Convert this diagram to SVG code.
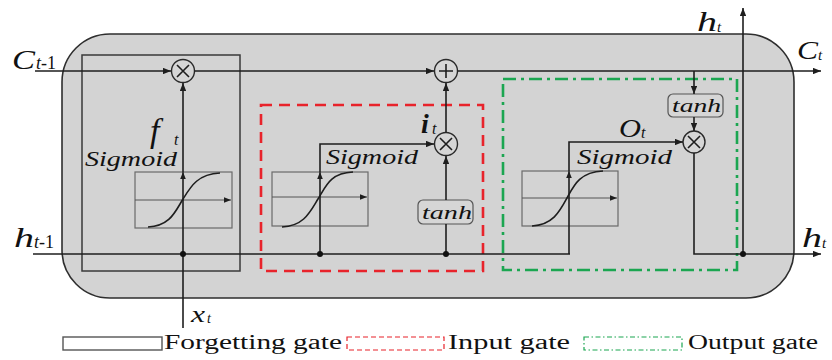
<svg xmlns="http://www.w3.org/2000/svg" width="832" height="360" viewBox="0 0 832 360">
<style>
.ln{fill:none;stroke:#1e1e1e;stroke-width:1.6}
.thin{fill:none;stroke:#555;stroke-width:1}
.box{fill:#d3d3d3;stroke:#6a6a6a;stroke-width:1.2}
.op{fill:#d6d6d6;stroke:#2a2a2a;stroke-width:1.4}
text{font-family:"Liberation Serif","DejaVu Serif","Times New Roman",serif;fill:#111}
.it{font-style:italic}
.dot{fill:#111}
</style>
<defs>
<marker id="ar" viewBox="0 0 10 8" refX="10" refY="4" markerWidth="8" markerHeight="6.4" markerUnits="userSpaceOnUse" orient="auto">
<path d="M0,0 L10,4 L0,8 Z" fill="#1e1e1e"/>
</marker>
<marker id="ars" viewBox="0 0 10 8" refX="10" refY="4" markerWidth="7" markerHeight="5.6" markerUnits="userSpaceOnUse" orient="auto">
<path d="M0,0 L10,4 L0,8 Z" fill="#1e1e1e"/>
</marker>
</defs>
<rect width="832" height="360" fill="#fff"/>
<g id="cell">
<rect x="62" y="34" width="732" height="264" rx="48" ry="48" fill="#d3d3d3" stroke="#2e2e2e" stroke-width="1.6"/>
</g>
<g id="forget-gate">
<rect x="82" y="55" width="158" height="216" fill="none" stroke="#3a3a3a" stroke-width="1.5"/>
<rect class="box" x="135" y="172" width="97" height="56"/>
<line class="thin" x1="135" y1="200" x2="231" y2="200" marker-end="url(#ars)"/>
<path class="ln" d="M148,227 C170,226 175,212 183,199 S198,174 220,173"/>
<text class="it" x="150" y="142" font-size="34">f</text>
<text class="it" x="174" y="145" font-size="16">t</text>
<text class="it" x="85" y="166" font-size="21" textLength="92" lengthAdjust="spacingAndGlyphs">Sigmoid</text>
<circle class="op" cx="183" cy="71" r="11.5"/>
<path class="ln" d="M177,65 L189,77 M189,65 L177,77" stroke-width="1.2"/>
</g>
<g id="input-gate">
<rect x="261" y="105" width="222" height="166" fill="none" stroke="#e8232b" stroke-width="2.6" stroke-dasharray="11 7"/>
<rect class="box" x="272" y="172" width="96" height="54"/>
<line class="thin" x1="272" y1="197" x2="367" y2="197" marker-end="url(#ars)"/>
<path class="ln" d="M282,227 C304,226 310,212 318,199 S330,173 353,172"/>
<text class="it" x="326" y="164" font-size="21" textLength="92" lengthAdjust="spacingAndGlyphs">Sigmoid</text>
<text class="it" x="421" y="133" font-size="28" font-weight="bold">i</text>
<text class="it" x="432" y="134" font-size="16">t</text>
<rect x="418" y="200" width="55" height="24" rx="5" fill="#d6d6d6" stroke="#555" stroke-width="1.2"/>
<text class="it" x="422" y="219" font-size="18" textLength="50" lengthAdjust="spacingAndGlyphs">tanh</text>
<circle class="op" cx="446" cy="144" r="11.5"/>
<path class="ln" d="M440,138 L452,150 M452,138 L440,150" stroke-width="1.2"/>
<circle class="op" cx="446" cy="71" r="11.5"/>
<path class="ln" d="M446,64 L446,78 M439,71 L453,71" stroke-width="1.3"/>
</g>
<g id="output-gate">
<rect x="503" y="79" width="234" height="191" fill="none" stroke="#1ba651" stroke-width="2.6" stroke-dasharray="13 5 3 5"/>
<rect class="box" x="522" y="171" width="96" height="55"/>
<line class="thin" x1="522" y1="198" x2="617" y2="198" marker-end="url(#ars)"/>
<path class="ln" d="M532,226 C553,225 560,211 567,198 S580,172 603,171"/>
<text class="it" x="577" y="164" font-size="21" textLength="95" lengthAdjust="spacingAndGlyphs">Sigmoid</text>
<text class="it" x="619" y="137" font-size="26" textLength="22" lengthAdjust="spacingAndGlyphs">O</text>
<text class="it" x="641" y="138" font-size="16">t</text>
<rect x="668" y="94" width="55" height="23" rx="5" fill="#d6d6d6" stroke="#555" stroke-width="1.2"/>
<text class="it" x="672" y="112" font-size="18" textLength="49" lengthAdjust="spacingAndGlyphs">tanh</text>
<circle class="op" cx="694" cy="142" r="11"/>
<path class="ln" d="M688,136 L700,148 M700,136 L688,148" stroke-width="1.2"/>
</g>
<g id="connectors">
<line class="ln" x1="35" y1="71" x2="171" y2="71" marker-end="url(#ar)"/>
<line class="ln" x1="194.5" y1="71" x2="434" y2="71" marker-end="url(#ar)"/>
<line class="ln" x1="457.5" y1="71" x2="821" y2="71" marker-end="url(#ar)"/>
<line class="ln" x1="183" y1="328" x2="183" y2="83" marker-end="url(#ar)"/>
<line class="ln" x1="33" y1="254" x2="570" y2="254"/>
<polyline class="ln" points="320,254 320,144 434,144" marker-end="url(#ar)"/>
<line class="ln" x1="446" y1="254" x2="446" y2="224"/>
<line class="ln" x1="446" y1="200" x2="446" y2="156" marker-end="url(#ar)"/>
<line class="ln" x1="446" y1="132.5" x2="446" y2="83" marker-end="url(#ar)"/>
<polyline class="ln" points="569,254 569,142 683,142" marker-end="url(#ar)"/>
<line class="ln" x1="694" y1="71" x2="694" y2="94" marker-end="url(#ar)"/>
<line class="ln" x1="694" y1="117" x2="694" y2="131" marker-end="url(#ar)"/>
<polyline class="ln" points="694,153 694,254 821,254" marker-end="url(#ar)"/>
<line class="ln" x1="743" y1="254" x2="743" y2="8" marker-end="url(#ar)"/>
<line class="thin" x1="320" y1="176" x2="320" y2="172" marker-end="url(#ars)"/>
<line class="thin" x1="183" y1="176" x2="183" y2="172" marker-end="url(#ars)"/>
<line class="thin" x1="569" y1="176" x2="569" y2="171" marker-end="url(#ars)"/>
<circle class="dot" cx="183" cy="254" r="3"/>
<circle class="dot" cx="320" cy="254" r="3"/>
<circle class="dot" cx="446" cy="254" r="3"/>
<circle class="dot" cx="743" cy="254" r="3"/>
</g>
<g id="labels">
<text class="it" x="12" y="69" font-size="28" textLength="23" lengthAdjust="spacingAndGlyphs">C</text>
<text x="36" y="69" font-size="18"><tspan class="it">t</tspan>-1</text>
<text class="it" x="14" y="247" font-size="27" textLength="20" lengthAdjust="spacingAndGlyphs">h</text>
<text x="34" y="248" font-size="18"><tspan class="it">t</tspan>-1</text>
<text class="it" x="191" y="322" font-size="24" textLength="14" lengthAdjust="spacingAndGlyphs">x</text>
<text class="it" x="207" y="323" font-size="14">t</text>
<text class="it" x="697" y="31" font-size="27" textLength="20" lengthAdjust="spacingAndGlyphs">h</text>
<text class="it" x="717" y="32" font-size="15">t</text>
<text class="it" x="797" y="59" font-size="26" textLength="21" lengthAdjust="spacingAndGlyphs">C</text>
<text class="it" x="818" y="60" font-size="15">t</text>
<text class="it" x="802" y="247" font-size="27" textLength="20" lengthAdjust="spacingAndGlyphs">h</text>
<text class="it" x="822" y="248" font-size="15">t</text>
</g>
<g id="legend">
<rect x="63" y="337" width="99" height="13" fill="#fff" stroke="#555" stroke-width="1.4"/>
<text x="164" y="349" font-size="20" textLength="178" lengthAdjust="spacingAndGlyphs">Forgetting gate</text>
<rect x="347" y="337" width="97" height="13" fill="#fff" stroke="#e8232b" stroke-width="1.2" stroke-dasharray="5 3"/>
<text x="448" y="349" font-size="20" textLength="122" lengthAdjust="spacingAndGlyphs">Input gate</text>
<rect x="584" y="337" width="98" height="13" fill="#fff" stroke="#1ba651" stroke-width="1.2" stroke-dasharray="5 2.5 1.5 2.5"/>
<text x="688" y="349" font-size="20" textLength="130" lengthAdjust="spacingAndGlyphs">Output gate</text>
</g>
</svg>
